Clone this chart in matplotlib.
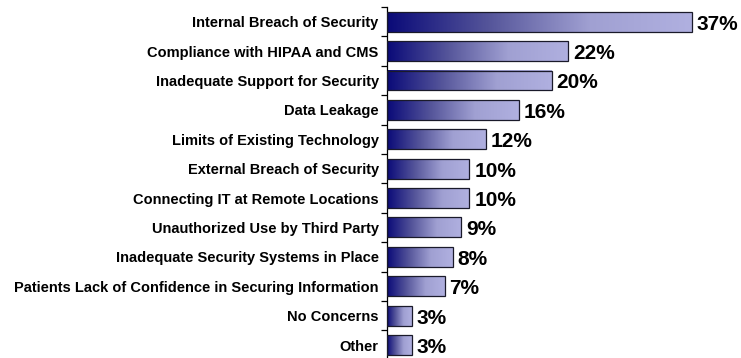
import numpy as np
import matplotlib
matplotlib.use("Agg")
import matplotlib.pyplot as plt
from matplotlib.colors import LinearSegmentedColormap

categories = [
    "Internal Breach of Security",
    "Compliance with HIPAA and CMS",
    "Inadequate Support for Security",
    "Data Leakage",
    "Limits of Existing Technology",
    "External Breach of Security",
    "Connecting IT at Remote Locations",
    "Unauthorized Use by Third Party",
    "Inadequate Security Systems in Place",
    "Patients Lack of Confidence in Securing Information",
    "No Concerns",
    "Other",
]
values = [37, 22, 20, 16, 12, 10, 10, 9, 8, 7, 3, 3]

plt.rcParams['font.family'] = ['Liberation Sans', 'DejaVu Sans']

fig = plt.figure(figsize=(7.41, 3.58), dpi=100, facecolor="white")
ax = fig.add_axes([387 / 741, -0.005, 1 - 387 / 741, 1 - 7 / 358 + 0.005])

grad = LinearSegmentedColormap.from_list("navy_fade", ["#0a0a78", "#55559a", "#a0a0d2", "#b0b0e0"])
ramp = np.linspace(0, 1, 256).reshape(1, -1)

n = len(categories)
ypos = np.arange(n)
height = 0.68
xmax = 43.0

for y, v in zip(ypos, values):
    ax.imshow(ramp, cmap=grad, aspect="auto", interpolation="bilinear",
              extent=(0, v, y + height / 2, y - height / 2), zorder=2)
    ax.add_patch(plt.Rectangle((0, y - height / 2), v, height, fill=False,
                               edgecolor="#1a1a2a", linewidth=0.9, zorder=3))
    ax.text(v + 0.6, y + 0.08, f"{v}%", va="center", ha="left",
            fontsize=15, fontweight="bold", color="black")

ax.set_xlim(0, xmax)
ax.set_ylim(n - 0.5, -0.5)

ax.set_yticks(ypos)
ax.set_yticklabels(categories, fontsize=10.5, fontweight="bold")
ax.set_yticks(np.arange(n + 1) - 0.5, minor=True)
ax.tick_params(axis="y", which="major", length=0, pad=6)
ax.tick_params(axis="y", which="minor", length=4, width=0.9, direction="out")
ax.set_xticks([])

for side in ("top", "right", "bottom"):
    ax.spines[side].set_visible(False)
ax.spines["left"].set_linewidth(0.9)

fig.savefig("out.png", dpi=100, facecolor="white")
